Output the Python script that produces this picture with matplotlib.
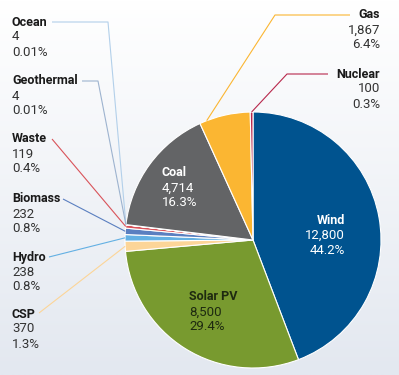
import numpy as np
import matplotlib
matplotlib.use("Agg")
import matplotlib.pyplot as plt
from matplotlib.colors import LinearSegmentedColormap

plt.rcParams['font.family'] = ['Roboto', 'DejaVu Sans']

# data, clockwise from 12 o'clock
names = ['Wind', 'Solar PV', 'CSP', 'Hydro', 'Biomass', 'Waste',
         'Geothermal', 'Ocean', 'Coal', 'Gas', 'Nuclear']
values = [12800, 8500, 370, 238, 232, 119, 4, 4, 4714, 1867, 100]
value_labels = ['12,800', '8,500', '370', '238', '232', '119',
                '4', '4', '4,714', '1,867', '100']
pct_labels = ['44.2%', '29.4%', '1.3%', '0.8%', '0.8%', '0.4%',
              '0.01%', '0.01%', '16.3%', '6.4%', '0.3%']
colors = ['#00538f', '#789a2f', '#fcd598', '#63b0e3', '#5a7fc0', '#d9535a',
          '#9db3cf', '#b3d0ea', '#636466', '#fbb632', '#b8284c']

W, H = 399, 375
fig = plt.figure(figsize=(W / 100, H / 100), dpi=100)

# background gradient
bg = fig.add_axes([0, 0, 1, 1], zorder=0)
cmap = LinearSegmentedColormap.from_list('bg', ['#ffffff', '#e3e8f0'])
bg.imshow(np.linspace(0, 1, 200).reshape(-1, 1), aspect='auto', cmap=cmap,
          extent=[0, 1, 0, 1])
bg.axis('off')

# pie: center (253,240) px, radius 128 px
cx, cy, R = 253, 240, 128
ax = fig.add_axes([(cx - R) / W, 1 - (cy + R) / H, 2 * R / W, 2 * R / H], zorder=1)
wedges, _ = ax.pie(values, colors=colors, startangle=90, counterclock=False,
                   radius=1, wedgeprops=dict(edgecolor='white', linewidth=0.8))
ax.set_xlim(-1, 1)
ax.set_ylim(-1, 1)
ax.set_aspect('equal')
ax.axis('off')

# overlay in pixel coords (y down)
ov = fig.add_axes([0, 0, 1, 1], zorder=2)
ov.set_xlim(0, W)
ov.set_ylim(H, 0)
ov.axis('off')
ov.patch.set_alpha(0)

fs = 9
lh = 15


def edge_point(i, frac=0.5):
    w = wedges[i]
    th = np.deg2rad(w.theta1 + frac * (w.theta2 - w.theta1))
    disp = ax.transData.transform((np.cos(th), np.sin(th)))
    return ov.transData.inverted().transform(disp)


def label(i, x, y, ha='left', color='#333333', namecolor='#1a1a1a'):
    ov.text(x, y, names[i], ha=ha, va='center', fontsize=fs, fontweight='bold',
            color=namecolor)
    ov.text(x, y + lh, value_labels[i], ha=ha, va='center', fontsize=fs + 0.5, color=color)
    ov.text(x, y + 2 * lh, pct_labels[i], ha=ha, va='center', fontsize=fs + 0.5, color=color)


# outside labels: (index, text x, first line y, align, leader start pts, frac)
outside = [
    (7, 12, 22, 'left', [(52, 22), (108, 22)], 0.5),
    (6, 12, 81, 'left', [(82, 81), (98, 81)], 0.5),
    (5, 12, 139, 'left', [(52, 139)], 0.5),
    (4, 12, 199, 'left', [(63, 199)], 0.5),
    (3, 12, 257, 'left', [(49, 257)], 0.5),
    (2, 12, 314, 'left', [(39, 313)], 0.5),
    (9, 380, 15, 'right', [(350, 15), (275, 15)], 0.86),
    (10, 380, 74, 'right', [(328, 74), (287, 74)], 0.5),
]
for i, x, y, ha, pts, frac in outside:
    label(i, x, y, ha=ha)
    ex, ey = edge_point(i, frac)
    xs = [p[0] for p in pts] + [ex]
    ys = [p[1] for p in pts] + [ey]
    ov.plot(xs, ys, color=colors[i], lw=0.8, solid_capstyle='butt')

# inside labels
label(8, 162, 173, color='white', namecolor='white')
label(0, 345, 220, ha='right', color='white', namecolor='white')
label(1, 189, 297, color='#1e2a10', namecolor='#1e2a10')

fig.savefig('out.png', dpi=100)
